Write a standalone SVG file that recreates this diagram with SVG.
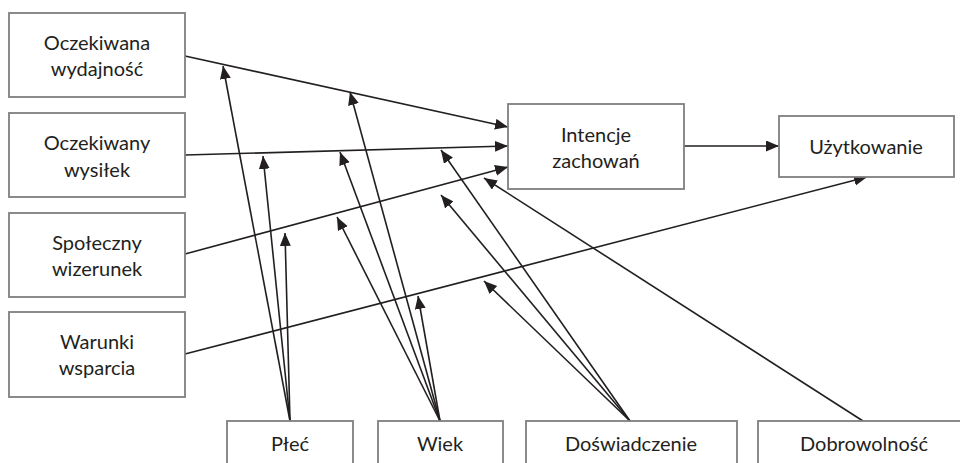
<svg xmlns="http://www.w3.org/2000/svg" width="960" height="463" viewBox="0 0 960 463">
  <style>
    .box { fill: #ffffff; stroke: #7f7f7f; stroke-width: 1.8; }
    .lbl { font-family: Lato, "Liberation Sans", sans-serif; font-size: 20px; fill: #231f20; text-anchor: middle; }
    .edge { stroke: #231f20; stroke-width: 1.6; fill: none; }
    .arr { marker-end: url(#head); }
  </style>
  <defs>
    <marker id="head" markerUnits="userSpaceOnUse" markerWidth="14" markerHeight="12" refX="13" refY="5.5" orient="auto">
      <path d="M0,0 L13,5.5 L0,11 z" fill="#231f20"/>
    </marker>
  </defs>

  <rect width="960" height="463" fill="#ffffff"/>

  <!-- connectors -->
  <g id="connectors">
    <line class="edge arr" x1="185" y1="56" x2="508" y2="127"/>
    <line class="edge arr" x1="185" y1="155" x2="508" y2="146"/>
    <line class="edge arr" x1="185" y1="254" x2="508" y2="167"/>
    <line class="edge arr" x1="185" y1="354" x2="867" y2="177"/>
    <line class="edge arr" x1="684" y1="146" x2="779" y2="146"/>
    <!-- gender moderation -->
    <line class="edge arr" x1="290" y1="421" x2="223" y2="66"/>
    <line class="edge arr" x1="290" y1="421" x2="263" y2="156"/>
    <line class="edge arr" x1="290" y1="421" x2="285" y2="233"/>
    <!-- age moderation -->
    <line class="edge arr" x1="440" y1="421" x2="350" y2="92"/>
    <line class="edge arr" x1="440" y1="421" x2="340" y2="152"/>
    <line class="edge arr" x1="440" y1="421" x2="337" y2="217"/>
    <line class="edge arr" x1="440" y1="421" x2="418" y2="296"/>
    <!-- experience moderation -->
    <line class="edge arr" x1="630" y1="421" x2="441" y2="150"/>
    <line class="edge arr" x1="630" y1="421" x2="441" y2="195"/>
    <line class="edge arr" x1="630" y1="421" x2="484" y2="281"/>
    <!-- voluntariness moderation -->
    <line class="edge arr" x1="863" y1="421" x2="484" y2="178"/>
  </g>

  <g id="oczekiwana-wydajnosc">
    <rect class="box" x="9" y="13" width="176" height="84"/>
    <text class="lbl" x="97" y="50">Oczekiwana</text>
    <text class="lbl" x="97" y="76">wydajność</text>
  </g>
  <g id="oczekiwany-wysilek">
    <rect class="box" x="9" y="113" width="176" height="84"/>
    <text class="lbl" x="97" y="150">Oczekiwany</text>
    <text class="lbl" x="97" y="177">wysiłek</text>
  </g>
  <g id="spoleczny-wizerunek">
    <rect class="box" x="9" y="213" width="176" height="84"/>
    <text class="lbl" x="97" y="250">Społeczny</text>
    <text class="lbl" x="97" y="276">wizerunek</text>
  </g>
  <g id="warunki-wsparcia">
    <rect class="box" x="9" y="312" width="176" height="85"/>
    <text class="lbl" x="97" y="349">Warunki</text>
    <text class="lbl" x="97" y="375">wsparcia</text>
  </g>
  <g id="intencje-zachowan">
    <rect class="box" x="508" y="104" width="176" height="85"/>
    <text class="lbl" x="596" y="142">Intencje</text>
    <text class="lbl" x="596" y="168">zachowań</text>
  </g>
  <g id="uzytkowanie">
    <rect class="box" x="779" y="116" width="175" height="61"/>
    <text class="lbl" x="866" y="154">Użytkowanie</text>
  </g>
  <g id="plec">
    <rect class="box" x="227" y="421" width="126" height="60"/>
    <text class="lbl" x="290" y="451">Płeć</text>
  </g>
  <g id="wiek">
    <rect class="box" x="378" y="421" width="125" height="60"/>
    <text class="lbl" x="440" y="451">Wiek</text>
  </g>
  <g id="doswiadczenie">
    <rect class="box" x="526" y="421" width="211" height="60"/>
    <text class="lbl" x="631" y="451">Doświadczenie</text>
  </g>
  <g id="dobrowolnosc">
    <rect class="box" x="758" y="421" width="211" height="60"/>
    <text class="lbl" x="864" y="451">Dobrowolność</text>
  </g>
</svg>
